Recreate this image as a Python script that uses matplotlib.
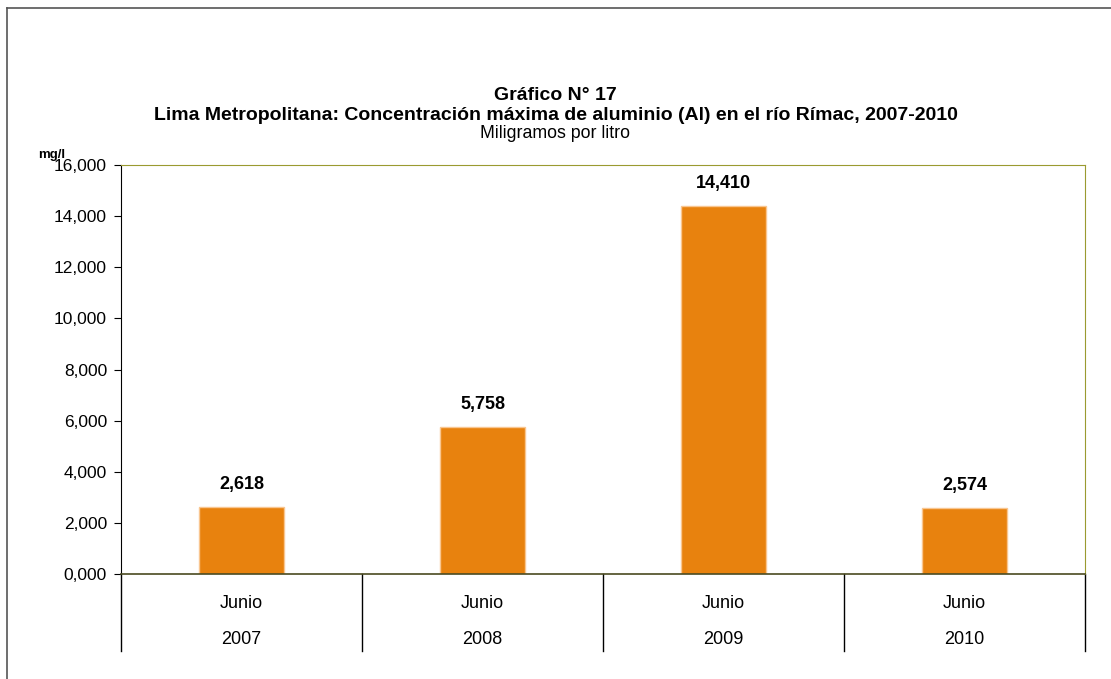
import matplotlib.pyplot as plt
import matplotlib.lines as mlines

plt.rcParams['font.family'] = ['Liberation Sans', 'DejaVu Sans']

meses = ['Junio', 'Junio', 'Junio', 'Junio']
anios = ['2007', '2008', '2009', '2010']
valores = [2618, 5758, 14410, 2574]
etiquetas = ['2,618', '5,758', '14,410', '2,574']
yticks = [0, 2000, 4000, 6000, 8000, 10000, 12000, 14000, 16000]
ytick_labels = ['0,000', '2,000', '4,000', '6,000', '8,000', '10,000', '12,000', '14,000', '16,000']

fig = plt.figure(figsize=(11.11, 6.79), dpi=100)
ax = fig.add_axes([121/1111, 1-574/679, (1085-121)/1111, (574-165)/679])

x = list(range(len(valores)))
ax.bar(x, valores, width=0.35, color='#E8820E', edgecolor='#F9C690', linewidth=1)

for xi, v, t in zip(x, valores, etiquetas):
    ax.annotate(t, (xi, v), xytext=(0, 16), textcoords='offset points',
                ha='center', va='center', fontsize=13, fontweight='bold')

ax.set_xlim(-0.5, 3.5)
ax.set_ylim(0, 16000)
ax.set_yticks(yticks)
ax.set_yticklabels(ytick_labels, fontsize=12.5)
ax.tick_params(axis='y', direction='out', length=5, color='black', pad=5)
ax.set_xticks([])

for s in ['top', 'right']:
    ax.spines[s].set_color('#9A9A30')
ax.spines['bottom'].set_color('#4A4A20')
ax.spines['left'].set_color('black')
ax.spines['bottom'].set_linewidth(1.2)

# category axis with two label levels
tr = ax.get_xaxis_transform()
for b in [-0.5, 0.5, 1.5, 2.5, 3.5]:
    ax.plot([b, b], [0, -77/409], color='black', lw=1, transform=tr, clip_on=False)
for xi, m, a in zip(x, meses, anios):
    ax.text(xi, -29/409, m, transform=tr, ha='center', va='center', fontsize=13)
    ax.text(xi, -65/409, a, transform=tr, ha='center', va='center', fontsize=13)

fig.text(0.5, 1-95/679, 'Gráfico N° 17', ha='center', va='center', fontsize=14, fontweight='bold')
fig.text(0.5, 1-115/679, 'Lima Metropolitana: Concentración máxima de aluminio (Al) en el río Rímac, 2007-2010',
         ha='center', va='center', fontsize=14, fontweight='bold')
fig.text(0.5, 1-134/679, 'Miligramos por litro', ha='center', va='center', fontsize=12.8)
fig.text(52/1111, 1-155/679, 'mg/l', ha='center', va='center', fontsize=9.5, fontweight='bold')

# outer frame (left and top)
fig.add_artist(mlines.Line2D([7/1111, 7/1111], [0, 1-8/679], color='#555555', lw=1.2))
fig.add_artist(mlines.Line2D([7/1111, 1], [1-8/679, 1-8/679], color='#555555', lw=1.2))

fig.savefig('out.png', dpi=100)
